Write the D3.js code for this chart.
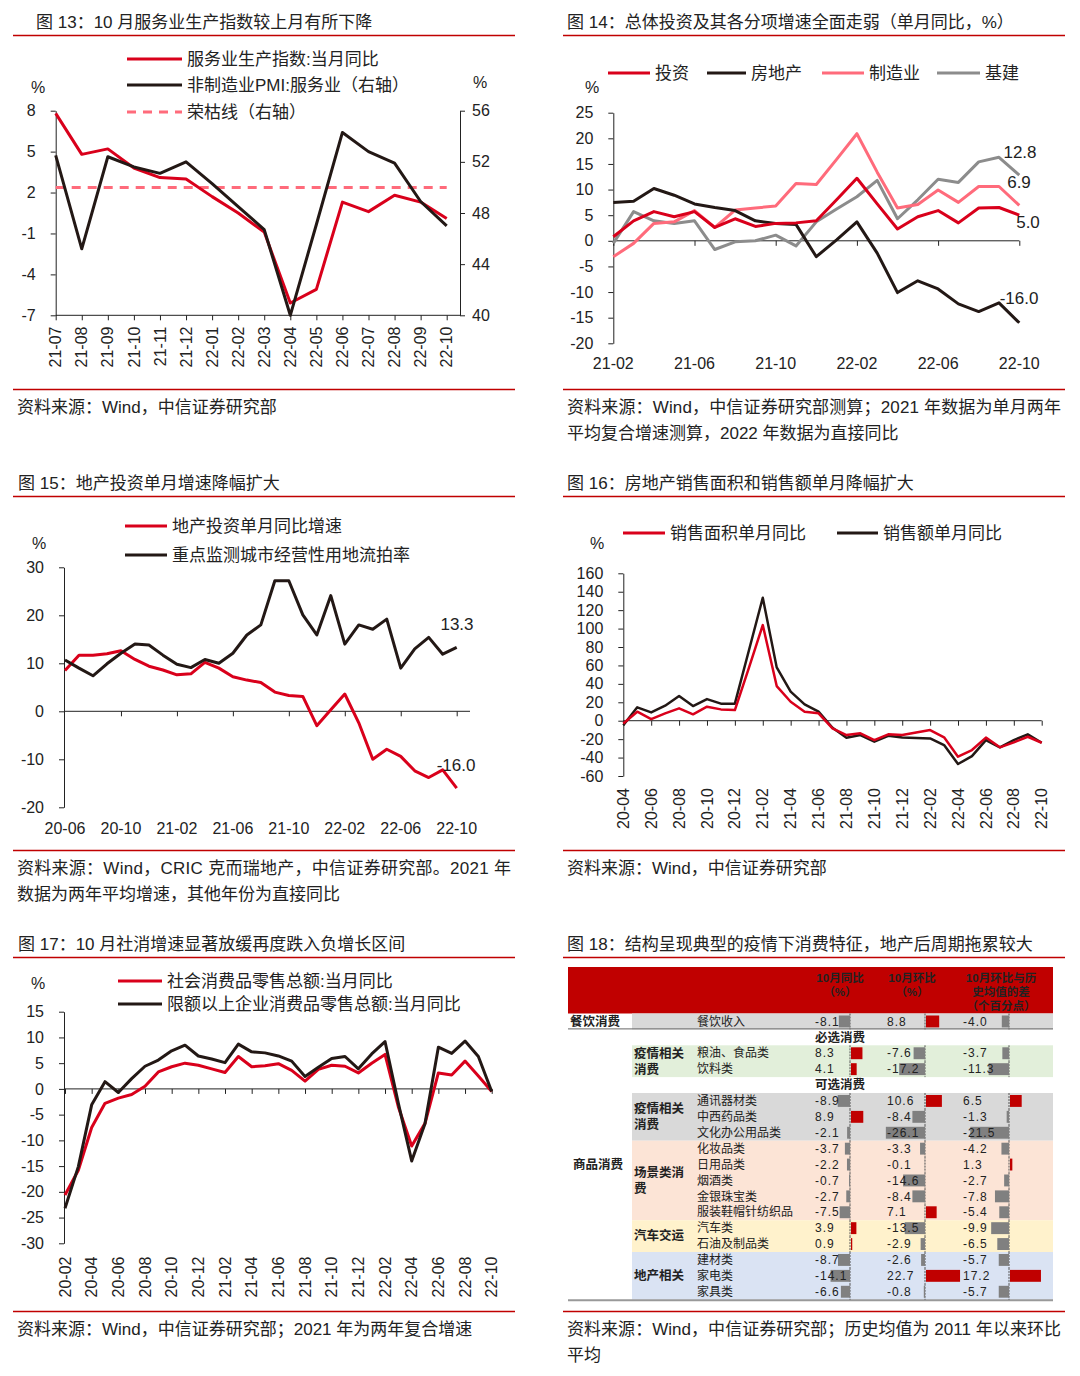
<!DOCTYPE html>
<html><head><meta charset="utf-8">
<script src="https://cdn.jsdelivr.net/npm/d3@7"></script>
<style>
body{margin:0;background:#fff}
svg text{font-family:"Liberation Sans","Noto Sans CJK SC",sans-serif;fill:#222}
</style></head>
<body><svg id="c" width="1080" height="1376"></svg>
<script>
const RED = "#d9001b", BLACK = "#231815", PINK = "#ff6b7b", GREY = "#8c8c8c";
const FONT = '"Liberation Sans","Noto Sans CJK SC",sans-serif';

// ---- chart 13
const m13 = ["21-07","21-08","21-09","21-10","21-11","21-12","22-01","22-02","22-03","22-04","22-05","22-06","22-07","22-08","22-09","22-10"];
const svc13 = [7.8,4.8,5.2,3.8,3.1,3.0,1.7,0.5,-0.9,-6.1,-5.1,1.3,0.6,1.8,1.3,0.1];
const pmi13 = [52.5,45.2,52.4,51.6,51.1,52.0,50.3,48.5,46.7,40.0,47.1,54.3,52.8,51.9,48.9,47.0];
const boom13 = 50;
const yTicks13 = [8,5,2,-1,-4,-7];
const yTicksR13 = [40,44,48,52,56];

// ---- chart 14
const m14 = ["21-02","21-03","21-04","21-05","21-06","21-07","21-08","21-09","21-10","21-11","21-12","22-01","22-02","22-03","22-04","22-05","22-06","22-07","22-08","22-09","22-10"];
const inv14 = [0.8,3.9,5.7,4.7,5.7,2.6,4.3,2.8,3.4,3.5,3.9,8.0,12.2,7.2,2.3,4.7,5.9,3.5,6.4,6.5,5.0];
const re14 = [7.5,7.7,10.2,8.9,7.2,6.5,5.9,3.9,3.4,3.2,-3.1,0.2,3.7,-2.4,-10.1,-7.8,-9.4,-12.3,-13.8,-12.1,-16.0];
const mfg14 = [-3.1,-0.5,3.4,3.7,5.9,2.6,6.0,6.4,6.8,11.2,11.0,15.9,20.9,13.4,6.4,7.1,9.9,7.5,10.6,10.6,6.9];
const infra14 = [-0.5,5.7,3.9,3.4,3.9,-1.7,-0.2,0.0,1.1,-1.0,3.7,6.2,8.6,11.8,4.3,8.0,12.0,11.4,15.4,16.3,12.8];
const xTicks14 = ["21-02","21-06","21-10","22-02","22-06","22-10"];
const yTicks14 = [25,20,15,10,5,0,-5,-10,-15,-20];

// ---- chart 15
const m15 = ["20-06","20-07","20-08","20-09","20-10","20-11","20-12","21-01","21-02","21-03","21-04","21-05","21-06","21-07","21-08","21-09","21-10","21-11","21-12","22-01","22-02","22-03","22-04","22-05","22-06","22-07","22-08","22-09","22-10"];
const inv15 = [8.5,11.7,11.7,12.0,12.6,10.8,9.4,8.6,7.6,7.8,10.2,9.0,7.2,6.5,6.0,4.0,3.3,3.1,-3.0,0.3,3.6,-2.4,-10.0,-7.9,-9.4,-12.4,-13.8,-12.2,-16.0];
const land15 = [10.7,9.0,7.4,9.9,12.1,14.0,13.8,11.7,9.8,9.1,10.8,10.0,12.1,15.9,18.0,27.2,27.2,20.1,15.9,24.1,14.0,18.0,17.1,19.2,9.0,13.0,15.4,11.9,13.3];
const xTicks15 = ["20-06","20-10","21-02","21-06","21-10","22-02","22-06","22-10"];
const yTicks15 = [30,20,10,0,-10,-20];

// ---- chart 16
const m16 = ["20-04","20-05","20-06","20-07","20-08","20-09","20-10","20-11","20-12","21-01","21-02","21-03","21-04","21-05","21-06","21-07","21-08","21-09","21-10","21-11","21-12","22-01","22-02","22-03","22-04","22-05","22-06","22-07","22-08","22-09","22-10"];
const area16 = [-3,9.8,1.8,8.0,13.4,6.9,15.2,12.3,11.6,57,103.8,37.6,20.6,9.8,8.0,-8.3,-15.6,-13.7,-21.0,-14.8,-15.6,-12.7,-10.1,-18.0,-39.1,-31.8,-18.3,-28.9,-23.5,-17.4,-23.9];
const amt16 = [-5,14.5,9.0,16.3,26.8,15.9,23.5,18.5,18.5,76,133.5,57.9,31.5,17.7,9.8,-7.6,-18.4,-15.6,-22.8,-16.3,-18.1,-18.8,-19.2,-26.4,-47.0,-38.4,-21.0,-28.9,-21.0,-14.8,-23.9];
const xTicks16 = ["20-04","20-06","20-08","20-10","20-12","21-02","21-04","21-06","21-08","21-10","21-12","22-02","22-04","22-06","22-08","22-10"];
const yTicks16 = [160,140,120,100,80,60,40,20,0,-20,-40,-60];

// ---- chart 17
const m17 = ["20-02","20-03","20-04","20-05","20-06","20-07","20-08","20-09","20-10","20-11","20-12","21-01","21-02","21-03","21-04","21-05","21-06","21-07","21-08","21-09","21-10","21-11","21-12","22-01","22-02","22-03","22-04","22-05","22-06","22-07","22-08","22-09","22-10"];
const retail17 = [-20.6,-15.8,-7.5,-2.8,-1.8,-1.1,0.5,3.3,4.3,5.0,4.6,3.9,3.2,6.3,4.3,4.5,4.9,3.6,1.5,3.8,4.6,4.4,3.1,5.0,6.7,-3.5,-11.1,-6.7,3.1,2.7,5.4,2.5,-0.5];
const above17 = [-23.2,-15.1,-3.1,1.4,-0.7,2.0,4.4,5.6,7.4,8.5,6.4,5.8,5.1,8.7,7.2,7.0,6.4,5.4,2.4,4.2,5.9,6.3,3.9,6.8,9.2,-2.8,-14.0,-6.7,8.1,6.9,9.3,6.3,-0.5];
const xTicks17 = ["20-02","20-04","20-06","20-08","20-10","20-12","21-02","21-04","21-06","21-08","21-10","21-12","22-02","22-04","22-06","22-08","22-10"];
const yTicks17 = [15,10,5,0,-5,-10,-15,-20,-25,-30];

// ---- chart 18 (table)
const items18 = ["餐饮收入","粮油、食品类","饮料类","通讯器材类","中西药品类","文化办公用品类","化妆品类","日用品类","烟酒类","金银珠宝类","服装鞋帽针纺织品","汽车类","石油及制品类","建材类","家电类","家具类"];
const yoy18 = [-8.1,8.3,4.1,-8.9,8.9,-2.1,-3.7,-2.2,-0.7,-2.7,-7.5,3.9,0.9,-8.7,-14.1,-6.6];
const mom18 = [8.8,-7.6,-17.2,10.6,-8.4,-26.1,-3.3,-0.1,-14.6,-8.4,7.1,-13.5,-2.9,-2.6,22.7,-0.8];
const diff18 = [-4.0,-3.7,-11.3,6.5,-1.3,-21.5,-4.2,1.3,-2.7,-7.8,-5.4,-9.9,-6.5,-5.7,17.2,-5.7];
const head18 = [["10月同比","（%）"],["10月环比","（%）"],["10月环比与历","史均值的差","（个百分点）"]];
const groups18 = [["疫情相关","消费"],["疫情相关","消费"],["场景类消","费"],["汽车交运"],["地产相关"]];
const groupItems18 = [[1,2],[3,5],[6,10],[11,12],[13,15]];
const sections18 = ["必选消费","可选消费"];

const svg = d3.select("#c");
svg.append("rect").attr("width",1080).attr("height",1376).attr("fill","#fff");

// ---------- helpers
function txt(x, y, s, opt = {}) {
  const t = svg.append("text").attr("x", x).attr("y", y).text(s)
    .attr("font-size", opt.size || 16).attr("fill", opt.fill || "#222");
  if (opt.anchor) t.attr("text-anchor", opt.anchor);
  if (opt.weight) t.attr("font-weight", opt.weight);
  if (opt.dy) t.attr("dy", opt.dy);
  if (opt.family) t.attr("font-family", opt.family);
  if (opt.len) t.attr("textLength", opt.len).attr("lengthAdjust", "spacing");
  return t;
}

function frame(x0, x1, row, title, titleX, sources) {
  const off = row * 461;
  txt(titleX, 28 + off, title, {fill: "#333", size: 17});
  svg.append("line").attr("x1", x0).attr("x2", x1).attr("y1", 35.5 + off).attr("y2", 35.5 + off)
    .attr("stroke", "#c00000").attr("stroke-width", 1.3);
  svg.append("line").attr("x1", x0).attr("x2", x1).attr("y1", 389.5 + off).attr("y2", 389.5 + off)
    .attr("stroke", "#c00000").attr("stroke-width", 1.3);
  sources.forEach((s, i) => txt(x0 + 4, 413 + off + i * 26, s[0], {fill: "#333", size: 17, len: s[1]}));
}

function styleAxis(g) {
  g.attr("font-family", FONT);
  g.select(".domain").attr("stroke", "#222");
  g.selectAll(".tick line").attr("stroke", "#222");
  g.selectAll(".tick text").attr("font-size", 16).attr("fill", "#222");
}

function yAxis(x, y, ticks, right) {
  const ax = (right ? d3.axisRight(y) : d3.axisLeft(y)).tickValues(ticks)
    .tickSize(5).tickSizeOuter(0).tickPadding(right ? 7 : 15).tickFormat(d => String(d));
  const g = svg.append("g").attr("transform", `translate(${x},0)`).call(ax);
  styleAxis(g);
}

function xAxis(x, yPos, x0, x1, tickCats) {
  svg.append("line").attr("x1", x0).attr("x2", x1).attr("y1", yPos).attr("y2", yPos).attr("stroke", "#222");
  const g = svg.append("g").attr("transform", `translate(0,${yPos})`)
    .call(d3.axisBottom(x).tickValues(tickCats).tickSize(5).tickFormat(""));
  g.select(".domain").remove();
  g.selectAll(".tick line").attr("stroke", "#222");
}

function rotLabels(x, cats, top) {
  cats.forEach(c => txt(0, 0, c, {anchor: "end", dy: "0.35em"})
    .attr("x", null).attr("y", null)
    .attr("transform", `translate(${x(c)},${top}) rotate(-90)`));
}

function flatLabels(x, cats, yPos) {
  cats.forEach(c => txt(x(c), yPos, c, {anchor: "middle"}));
}

function series(x, y, cats, vals, color, w, dash) {
  const line = d3.line().x((d, i) => x(cats[i])).y(d => y(d));
  const p = svg.append("path").datum(vals).attr("d", line).attr("fill", "none")
    .attr("stroke", color).attr("stroke-width", w).attr("stroke-linejoin", "round");
  if (dash) p.attr("stroke-dasharray", dash);
}

function legendItem(x0, x1, yPos, label, color, w, dash) {
  const l = svg.append("line").attr("x1", x0).attr("x2", x1).attr("y1", yPos).attr("y2", yPos)
    .attr("stroke", color).attr("stroke-width", w || 3);
  if (dash) l.attr("stroke-dasharray", dash);
  txt(x1 + 5, yPos, label, {dy: "0.35em", size: 17});
}

// ================= chart 13
frame(13, 515, 0, "图 13：10 月服务业生产指数较上月有所下降", 36, [["资料来源：Wind，中信证券研究部"]]);
{
  const x = d3.scalePoint().domain(m13).range([55.7, 446.7]);
  const yL = d3.scaleLinear().domain([-7, 8]).range([315.3, 110.7]);
  const yR = d3.scaleLinear().domain([40, 56]).range([315.3, 110.7]);
  xAxis(x, 315.3, 55.7, 460, m13);
  yAxis(55.7, yL, yTicks13, false);
  yAxis(460, yR, yTicksR13, true);
  rotLabels(x, m13, 326.5);
  txt(38, 87, "%", {anchor: "middle", dy: "0.35em"});
  txt(480, 82, "%", {anchor: "middle", dy: "0.35em"});
  svg.append("line").attr("x1", x(m13[0])).attr("x2", x(m13[m13.length - 1]))
    .attr("y1", yR(boom13)).attr("y2", yR(boom13))
    .attr("stroke", PINK).attr("stroke-width", 3).attr("stroke-dasharray", "9,7");
  series(x, yL, m13, svc13, RED, 3);
  series(x, yR, m13, pmi13, BLACK, 3);
  legendItem(127, 182, 59, "服务业生产指数:当月同比", RED);
  legendItem(127, 182, 85, "非制造业PMI:服务业（右轴）", BLACK);
  legendItem(127, 182, 112, "荣枯线（右轴）", PINK, 3, "9,7");
}

// ================= chart 14
frame(563, 1065, 0, "图 14：总体投资及其各分项增速全面走弱（单月同比，%）", 567,
  [["资料来源：Wind，中信证券研究部测算；2021 年数据为单月两年", 494], ["平均复合增速测算，2022 年数据为直接同比"]]);
{
  const x = d3.scalePoint().domain(m14).range([613.3, 1019.3]);
  const y = d3.scaleLinear().domain([-20, 25]).range([343.3, 112.7]);
  xAxis(x, y(0), 613.3, 1019.3, xTicks14);
  yAxis(613.3, y, yTicks14, false);
  flatLabels(x, xTicks14, 369);
  txt(592, 87, "%", {anchor: "middle", dy: "0.35em"});
  series(x, y, m14, infra14, GREY, 3);
  series(x, y, m14, mfg14, PINK, 3);
  series(x, y, m14, re14, BLACK, 3);
  series(x, y, m14, inv14, RED, 3);
  legendItem(608, 650, 73, "投资", RED);
  legendItem(707, 746, 73, "房地产", BLACK);
  legendItem(822, 864, 73, "制造业", PINK);
  legendItem(937, 980, 73, "基建", GREY);
  const lab = {anchor: "middle", dy: "0.35em", size: 17};
  txt(1020, 152, infra14[infra14.length - 1].toFixed(1), lab);
  txt(1019, 182, mfg14[mfg14.length - 1].toFixed(1), lab);
  txt(1028, 222, inv14[inv14.length - 1].toFixed(1), lab);
  txt(1019, 298, re14[re14.length - 1].toFixed(1), lab);
}

// ================= chart 15
frame(13, 515, 1, "图 15：地产投资单月增速降幅扩大", 18,
  [["资料来源：Wind，CRIC 克而瑞地产，中信证券研究部。2021 年", 494], ["数据为两年平均增速，其他年份为直接同比"]]);
{
  const x = d3.scalePoint().domain(m15).range([65, 456.7]);
  const y = d3.scaleLinear().domain([-20, 30]).range([807.3, 567.3]);
  xAxis(x, y(0), 64, 470, xTicks15.slice(1));
  yAxis(64, y, yTicks15, false);
  flatLabels(x, xTicks15, 834);
  txt(39, 543, "%", {anchor: "middle", dy: "0.35em"});
  series(x, y, m15, inv15, RED, 3);
  series(x, y, m15, land15, BLACK, 3);
  legendItem(125, 167, 526, "地产投资单月同比增速", RED);
  legendItem(125, 167, 555, "重点监测城市经营性用地流拍率", BLACK);
  const lab = {anchor: "middle", dy: "0.35em", size: 17};
  txt(457, 624, land15[land15.length - 1].toFixed(1), lab);
  txt(456, 765, inv15[inv15.length - 1].toFixed(1), lab);
}

// ================= chart 16
frame(563, 1065, 1, "图 16：房地产销售面积和销售额单月降幅扩大", 567, [["资料来源：Wind，中信证券研究部"]]);
{
  const x = d3.scalePoint().domain(m16).range([623.3, 1041.7]);
  const y = d3.scaleLinear().domain([-60, 160]).range([776, 573.3]);
  xAxis(x, y(0), 623.3, 1041.7, xTicks16);
  yAxis(623.3, y, yTicks16, false);
  rotLabels(x, xTicks16, 788);
  txt(597, 543, "%", {anchor: "middle", dy: "0.35em"});
  series(x, y, m16, amt16, BLACK, 2.5);
  series(x, y, m16, area16, RED, 2.5);
  legendItem(623, 665, 533, "销售面积单月同比", RED);
  legendItem(837, 878, 533, "销售额单月同比", BLACK);
}

// ================= chart 17
frame(13, 515, 2, "图 17：10 月社消增速显著放缓再度跌入负增长区间", 18,
  [["资料来源：Wind，中信证券研究部；2021 年为两年复合增速"]]);
{
  const x = d3.scalePoint().domain(m17).range([65, 491.7]);
  const y = d3.scaleLinear().domain([-30, 15]).range([1243.3, 1011.7]);
  xAxis(x, y(0), 64, 491.7, xTicks17);
  yAxis(64, y, yTicks17, false);
  rotLabels(x, xTicks17, 1256.5);
  txt(38, 983, "%", {anchor: "middle", dy: "0.35em"});
  series(x, y, m17, retail17, RED, 3);
  series(x, y, m17, above17, BLACK, 3);
  legendItem(118, 162, 981, "社会消费品零售总额:当月同比", RED);
  legendItem(118, 162, 1004, "限额以上企业消费品零售总额:当月同比", BLACK);
}

// ================= chart 18 (table)
frame(563, 1065, 2, "图 18：结构呈现典型的疫情下消费特征，地产后周期拖累较大", 567,
  [["资料来源：Wind，中信证券研究部；历史均值为 2011 年以来环比", 494], ["平均"]]);
{
  const L = 568, R = 1053, top = 1013.5, rh = 15.9;
  const CJK = '"Noto Sans CJK SC",sans-serif';
  // slot of each item (section label rows take slots 1 and 4)
  const slot = items18.map((d, i) => i === 0 ? 0 : i <= 2 ? i + 1 : i + 2);
  const rowY = s => top + s * rh;
  const bands = ["#d9d9d9", "#e2efda", "#d9d9d9", "#fce4d6", "#fff2cc", "#dae3f3"];
  const bandItems = [[0, 0]].concat(groupItems18);

  svg.append("rect").attr("x", L).attr("y", 967).attr("width", R - L).attr("height", top - 967).attr("fill", "#c00000");
  const hx = [840, 912, 1001];
  head18.forEach((lines, c) => lines.forEach((s, k) =>
    txt(hx[c], 982 + k * 14, s, {anchor: "middle", size: 11.5, fill: "#fff", weight: "bold", family: CJK})));

  bandItems.forEach((r, b) => {
    const y0 = rowY(slot[r[0]]), y1 = rowY(slot[r[1]] + 1);
    svg.append("rect").attr("x", 632).attr("y", y0).attr("width", R - 632).attr("height", y1 - y0).attr("fill", bands[b]);
  });
  svg.append("line").attr("x1", L).attr("x2", R).attr("y1", rowY(1) - 0.5).attr("y2", rowY(1) - 0.5).attr("stroke", "#666");
  svg.append("line").attr("x1", L).attr("x2", R).attr("y1", rowY(18) + 0.5).attr("y2", rowY(18) + 0.5).attr("stroke", "#999").attr("stroke-width", 2);

  txt(570, rowY(0) + rh / 2, "餐饮消费", {size: 12.5, weight: "bold", dy: "0.35em", family: CJK, fill: "#111"});
  txt(573, 1165, "商品消费", {size: 12.5, weight: "bold", dy: "0.35em", family: CJK, fill: "#111"});
  sections18.forEach((s, k) => txt(815, rowY(k === 0 ? 1 : 4) + rh / 2, s, {size: 12.5, weight: "bold", dy: "0.35em", family: CJK, fill: "#c00000"}));
  groups18.forEach((g, k) => {
    const r = groupItems18[k];
    const mid = (rowY(slot[r[0]]) + rowY(slot[r[1]] + 1)) / 2;
    g.forEach((s, j) => txt(634, mid + (j - (g.length - 1) / 2) * 16, s,
      {size: 12.5, weight: "bold", dy: "0.35em", family: CJK, fill: "#c00000"}));
  });

  const cols = [
    {vals: yoy18, tx: 815, sc: d3.scaleLinear().domain([-10, 10]).range([850 - 13.8, 850 + 13.8])},
    {vals: mom18, tx: 887, sc: d3.scaleLinear().domain([-10, 10]).range([925 - 15, 925 + 15])},
    {vals: diff18, tx: 963, sc: d3.scaleLinear().domain([-10, 10]).range([1009 - 18, 1009 + 18])}
  ];
  items18.forEach((name, i) => {
    const y0 = rowY(slot[i]);
    txt(697, y0 + rh / 2, name, {size: 12, dy: "0.35em", family: CJK, fill: "#333"});
    cols.forEach(c => {
      const v = c.vals[i], z = c.sc(0), xv = c.sc(v);
      svg.append("line").attr("x1", z).attr("x2", z).attr("y1", y0).attr("y2", y0 + rh)
        .attr("stroke", "#555").attr("stroke-width", 1).attr("stroke-dasharray", "2,1");
      svg.append("rect").attr("x", Math.min(z, xv) + (v > 0 ? 1 : 0)).attr("y", y0 + 2)
        .attr("width", Math.abs(xv - z)).attr("height", rh - 4)
        .attr("fill", v > 0 ? "#c00000" : "#808080");
      txt(c.tx, y0 + rh / 2, v.toFixed(1), {size: 12, dy: "0.35em", family: CJK, fill: "#222"})
        .attr("letter-spacing", 1);
    });
  });
}
</script>
</body></html>
